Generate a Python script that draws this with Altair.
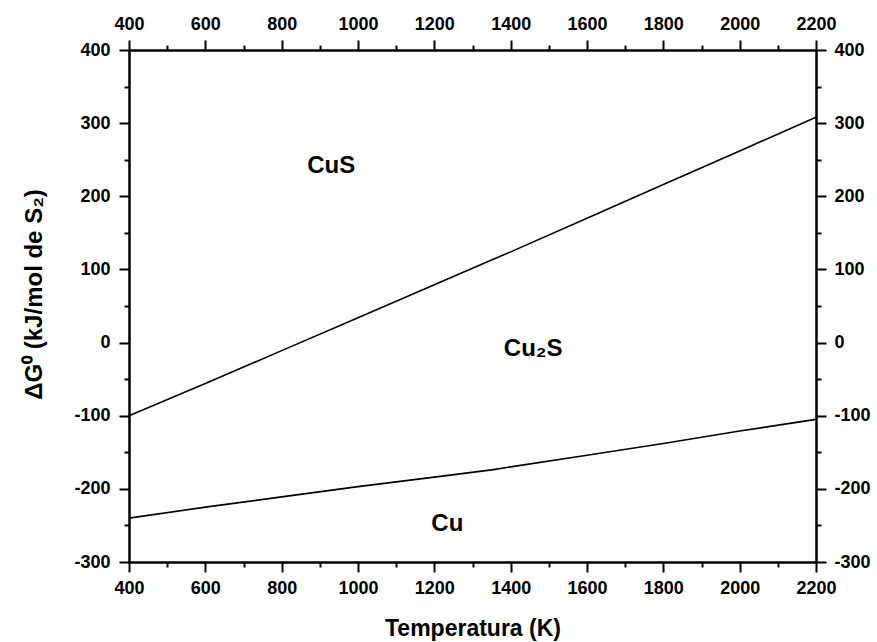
import altair as alt
import pandas as pd

# ---- data ----
temps = [400, 600, 800, 1000, 1200, 1350, 1400, 1600, 1800, 2000, 2200]
g_cus_cu2s = [-100, -56, -11, 34, 79, 113, 124, 170, 216, 262, 308]
g_cu2s_cu = [-240, -225, -211, -197, -184, -174, -170, -154, -138, -121, -105]

label_text = ["CuS", "Cu\u2082S", "Cu"]
label_T = [930, 1459, 1234]
label_G = [242, -9, -248]

x_major = [400, 600, 800, 1000, 1200, 1400, 1600, 1800, 2000, 2200]
x_minor = [500, 700, 900, 1100, 1300, 1500, 1700, 1900, 2100]
y_major = [-300, -200, -100, 0, 100, 200, 300, 400]
y_minor = [-250, -150, -50, 50, 150, 250, 350]

lines = pd.DataFrame({
    "T": temps + temps,
    "G": g_cus_cu2s + g_cu2s_cu,
    "curve": ["CuS/Cu2S"] * len(temps) + ["Cu2S/Cu"] * len(temps),
})
labels = pd.DataFrame({"T": label_T, "G": label_G, "txt": label_text})

FONT = "Liberation Sans"
xscale = alt.Scale(domain=[400, 2200], nice=False, zero=False)
yscale = alt.Scale(domain=[-300, 400], nice=False, zero=False)

LABEL_EXPR = "datum.value < 0 ? '-' + abs(datum.value) : '' + datum.value"

common = dict(
    grid=False, domainColor="black", domainWidth=2, tickColor="black", tickWidth=2,
    labelFont=FONT, labelFontWeight="bold", labelFontSize=18, labelColor="black",
    labelFlush=False, labelOverlap=False, labelBound=False, labelExpr=LABEL_EXPR,
)


def major_x(orient, title=None):
    kw = dict(common)
    if title is not None:
        kw.update(title=title, titleFont=FONT, titleFontSize=23, titleFontWeight="bold",
                  titleColor="black", titleBaseline="alphabetic", titleY=73)
    else:
        kw.update(title=None)
    return alt.Axis(orient=orient, values=x_major, tickSize=10, labelPadding=7, **kw)


def major_y(orient, title=None):
    kw = dict(common)
    if title is not None:
        kw.update(title=title, titleFont=FONT, titleFontSize=24, titleFontWeight="bold",
                  titleColor="black", titleBaseline="alphabetic", titleX=-88, titleY=244,
                  titleAngle=270)
    else:
        kw.update(title=None)
    return alt.Axis(orient=orient, values=y_major, tickSize=10,
                    labelPadding=9 if orient == "left" else 8, **kw)


def minor_axis(orient, vals):
    return alt.Axis(orient=orient, values=vals, tickSize=5, labels=False, title=None,
                    grid=False, domainColor="black", domainWidth=2,
                    tickColor="black", tickWidth=2)


base = alt.Chart(lines)

main = base.mark_line(color="black", strokeWidth=1.6).encode(
    x=alt.X("T:Q", scale=xscale, axis=major_x("bottom", "Temperatura (K)")),
    y=alt.Y("G:Q", scale=yscale, axis=major_y("left", "\u0394G\u2070 (kJ/mol de S\u2082)")),
    detail="curve:N",
)

mirror = base.mark_line(opacity=0).encode(
    x=alt.X("T:Q", scale=xscale, axis=major_x("top")),
    y=alt.Y("G:Q", scale=yscale, axis=major_y("right")),
    detail="curve:N",
)

minor1 = base.mark_line(opacity=0).encode(
    x=alt.X("T:Q", scale=xscale, axis=minor_axis("bottom", x_minor)),
    y=alt.Y("G:Q", scale=yscale, axis=minor_axis("left", y_minor)),
    detail="curve:N",
)

minor2 = base.mark_line(opacity=0).encode(
    x=alt.X("T:Q", scale=xscale, axis=minor_axis("top", x_minor)),
    y=alt.Y("G:Q", scale=yscale, axis=minor_axis("right", y_minor)),
    detail="curve:N",
)

text = alt.Chart(labels).mark_text(
    font=FONT, fontWeight="bold", fontSize=24, color="black", baseline="middle", align="center"
).encode(
    x=alt.X("T:Q", scale=xscale, axis=None),
    y=alt.Y("G:Q", scale=yscale, axis=None),
    text="txt:N",
)

chart = alt.layer(main, mirror, minor1, minor2, text).resolve_axis(
    x="independent", y="independent"
).properties(
    width=687, height=512,
    autosize=alt.AutoSizeParams(type="none"),
    padding={"left": 129, "top": 50, "right": 61, "bottom": 80},
    background="white",
).configure_view(stroke=None)

chart.save("out.html", embed_options={"renderer": "svg", "actions": False})
